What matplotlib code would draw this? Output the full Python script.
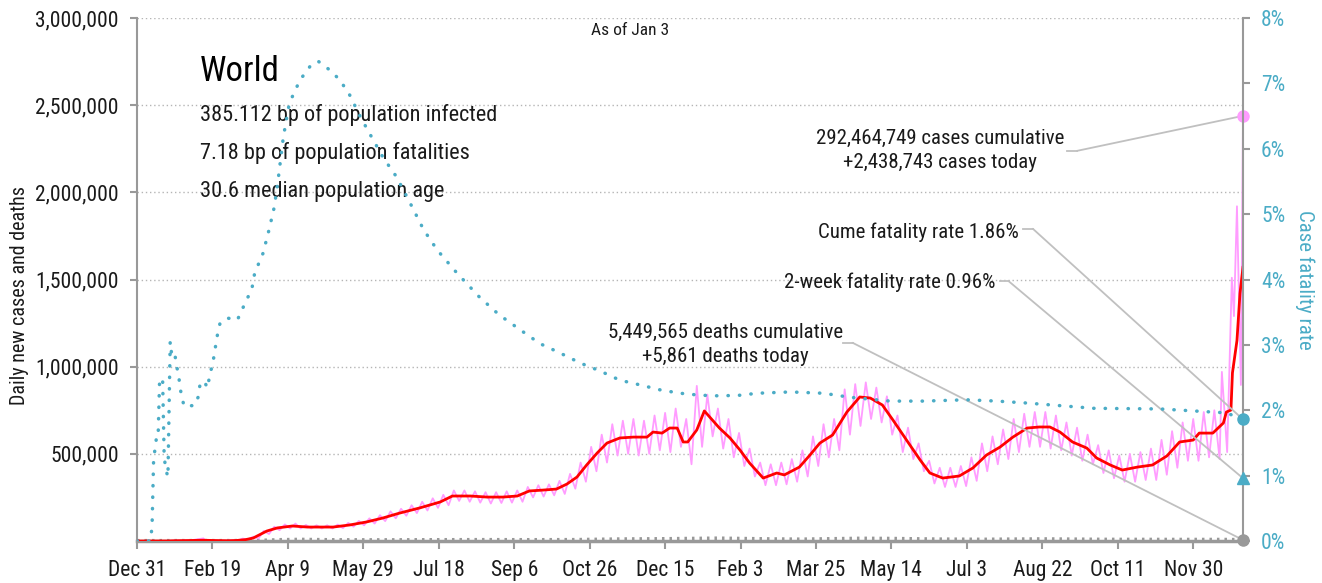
import numpy as np
import matplotlib.pyplot as plt

plt.rcParams['font.family'] = ['Roboto Condensed', 'DejaVu Sans']

# days counted from Dec 31, 2019
tick_days = [0, 50, 100, 150, 200, 250, 300, 350, 400, 450, 500, 550, 600, 650, 700]
tick_labels = ["Dec 31", "Feb 19", "Apr 9", "May 29", "Jul 18", "Sep 6", "Oct 26", "Dec 15",
               "Feb 3", "Mar 25", "May 14", "Jul 3", "Aug 22", "Oct 11", "Nov 30"]

# 7-day average of new cases (thousands)
red_days = [0, 20, 25, 35, 44, 50, 60, 66, 72, 77, 86, 93, 103, 113, 130, 141, 152, 163, 174,
            187.5, 201, 209, 221, 232, 242.5, 252, 260, 269, 278, 285, 291.6, 298, 305, 311.5,
            320, 329, 338, 342, 348, 353, 358, 362, 365, 371, 376, 386, 393, 399.6, 406, 415,
            424, 429, 439, 446, 452.6, 461, 470.5, 479, 486, 494, 501, 510, 519, 525.5, 534,
            545, 554, 563, 572, 580.5, 590, 598, 605, 611.7, 620, 629.5, 636, 645, 653, 663,
            673, 682.6, 691, 700, 704, 713, 720, 722, 725, 726, 729, 731, 733]
red_vals = [0, 0.3, 1.5, 2.8, 4.5, 3, 1.5, 3, 8, 17, 57, 75, 86, 80, 80, 92, 109, 132, 160,
            190, 224, 258, 258, 252, 252, 258, 287, 292, 298, 327, 367, 436, 505, 562,
            591, 596, 596, 625, 619, 648, 648, 568, 568, 637, 746, 648, 591, 522, 447, 361,
            390, 379, 424, 493, 562, 608, 740, 826, 820, 780, 694, 579, 465, 390, 361,
            373, 419, 493, 539, 596, 648, 654, 654, 625, 568, 533, 476, 436, 407, 424,
            436, 488, 568, 579, 619, 619, 677, 740, 751, 964, 1150, 1420, 1570]

# daily new cases (thousands): early days, then weekly highs / lows from Mar 3, 2020
pink_early_days = [0, 21, 25, 35, 44, 45, 50, 56, 60]
pink_early_vals = [0, 0.5, 2, 3, 15, 5, 2, 1.5, 2]
week0 = 63
pink_hi = [4, 14, 25, 58, 82, 95, 100, 92, 90, 90,
           94, 104, 115, 130, 148, 170, 185, 205, 225, 245,
           265, 290, 290, 285, 280, 280, 285, 290, 310, 320,
           325, 345, 385, 450, 540, 610, 670, 690, 700, 690,
           720, 735, 760, 700, 890, 840, 760, 700, 620, 530,
           450, 440, 450, 470, 520, 600, 670, 700, 870, 900,
           910, 880, 830, 720, 650, 560, 460, 420, 420, 430,
           480, 560, 600, 640, 700, 730, 740, 740, 720, 680,
           650, 610, 550, 520, 490, 500, 510, 530, 580, 630,
           680, 700, 740, 750]
pink_lo = [1, 8, 14, 40, 62, 72, 72, 72, 72, 72,
           74, 82, 90, 100, 114, 130, 145, 160, 175, 190,
           205, 230, 225, 220, 215, 218, 220, 225, 250, 255,
           262, 270, 300, 340, 400, 450, 490, 500, 490, 500,
           520, 510, 540, 440, 540, 600, 530, 480, 430, 370,
           320, 320, 325, 340, 370, 430, 480, 520, 610, 660,
           700, 680, 610, 510, 470, 400, 330, 310, 310, 315,
           345, 400, 440, 470, 510, 540, 540, 530, 520, 490,
           460, 440, 390, 360, 340, 340, 350, 350, 380, 420,
           460, 460, 480, 470]
pink_tail_days = [719, 722.5, 725.6, 727, 729, 731.6, 733]
pink_tail_vals = [970, 510, 1510, 1290, 1920, 895, 2438.743]

# daily deaths (thousands)
death_days = [0, 30, 60, 80, 95, 108, 130, 160, 200, 230, 260, 290, 320, 350, 385, 420,
              440, 480, 500, 530, 560, 600, 640, 680, 720, 733]
death_vals = [0, 0.1, 0.1, 1.2, 5.5, 7.3, 5.0, 4.5, 5.3, 5.8, 5.3, 5.9, 9.5, 11.0, 14.3, 10.0,
              8.5, 13.5, 12.5, 9.0, 7.7, 10.0, 7.5, 7.0, 6.8, 5.861]

# case fatality rate (%)
cfr_days = [0, 5, 9, 10, 11, 13, 14, 15, 17, 18, 19, 20.5, 22, 23, 25, 26, 27.5, 28.5, 29.5,
            30.7, 32, 35, 38, 40.5, 42, 45, 46.5, 49.5, 51, 53, 55, 59.5, 63, 66.5, 69.5,
            72.6, 76, 78, 83.5, 87.5, 91, 93.5, 97, 101, 108, 115, 120, 128, 134.5, 141,
            148, 154, 163, 172, 181, 190, 199, 212, 227, 240, 254, 267, 280, 294, 307, 320,
            333, 347, 360, 373, 386, 400, 411, 433, 455, 472, 499, 521, 550, 570, 590, 634,
            678, 722, 733]
cfr_vals = [0, 0, 0, 0.24, 1.24, 1.6, 1.6, 2.49, 2.45, 1.3, 1.1, 0.98, 3.05, 2.85, 2.88, 2.7,
            2.55, 2.36, 2.22, 2.11, 2.05, 2.07, 2.07, 2.2, 2.43, 2.43, 2.34, 2.66, 2.82, 3.12,
            3.33, 3.41, 3.4, 3.38, 3.53, 3.69, 3.84, 4.1, 4.4, 4.76, 5.11, 5.52, 6.18, 6.7,
            7.05, 7.27, 7.34, 7.2, 7.05, 6.82, 6.49, 6.24, 5.87, 5.57, 5.17, 4.76, 4.45, 4.1,
            3.73, 3.46, 3.23, 3.02, 2.88, 2.72, 2.6, 2.46, 2.39, 2.31, 2.26, 2.23, 2.22, 2.23,
            2.26, 2.28, 2.26, 2.2, 2.14, 2.14, 2.16, 2.14, 2.11, 2.03, 2.02, 1.96, 1.86]

last_day = 733
cases_today = 2438743
cume_rate = 1.86
twoweek_rate = 0.96
deaths_today = 5861

pink = '#ff9cff'
red = '#ff0000'
teal = '#4bacc6'
axis_gray = '#999999'
lead_gray = '#c0c0c0'
ink = '#1a1a1a'

# interleave weekly highs and lows
pink_days = list(pink_early_days)
pink_vals = list(pink_early_vals)
for k in range(len(pink_hi)):
    pink_days += [week0 + 7 * k, week0 + 7 * k + 3.5]
    pink_vals += [pink_hi[k], pink_lo[k]]
pink_days += pink_tail_days
pink_vals += pink_tail_vals

fig = plt.figure(figsize=(13.22, 5.83), dpi=100)
ax = fig.add_axes([137 / 1322, 42 / 583, 1106 / 1322, 523 / 583])
ax2 = ax.twinx()

ax.plot(death_days, np.array(death_vals) * 1000, color=axis_gray, lw=3,
        ls=(0, (0.6, 1.2)), zorder=1.5)
ax.plot(pink_days, np.array(pink_vals) * 1000, color=pink, lw=1.3, zorder=2)
ax.plot(red_days, np.array(red_vals) * 1000, color=red, lw=2, zorder=3)
ax2.plot(cfr_days, cfr_vals, color=teal, lw=2.5, ls=(0, (0.1, 3.2)),
         dash_capstyle='round', zorder=2)

ax.set_xlim(0, last_day)
ax.set_ylim(0, 3000000)
ax2.set_ylim(0, 8)

ax.set_xticks(tick_days)
ax.set_xticklabels(tick_labels)
yt = [500000, 1000000, 1500000, 2000000, 2500000, 3000000]
ax.set_yticks(yt)
ax.set_yticklabels([f"{v:,}" for v in yt])
ax2.set_yticks(range(9))
ax2.set_yticklabels([f"{v}%" for v in range(9)])

for v in yt:
    ax.axhline(v, color='#b5b5b5', lw=1, ls=(0, (1, 2)), zorder=0)

for a in (ax, ax2):
    a.spines['top'].set_visible(False)
    a.spines['left'].set_color(axis_gray)
    a.spines['right'].set_color(axis_gray)
    a.spines['bottom'].set_color(axis_gray)
    a.spines['left'].set_linewidth(1.5)
    a.spines['right'].set_linewidth(1.5)
    a.spines['bottom'].set_linewidth(2.5)
ax.spines['right'].set_visible(False)
ax2.spines['left'].set_visible(False)
ax2.spines['bottom'].set_visible(False)

ax.tick_params(axis='x', length=6, width=1.5, color=axis_gray, labelsize=15.5, pad=8,
               labelcolor=ink)
ax.tick_params(axis='y', length=5, width=1.5, color=axis_gray, labelsize=15.5, pad=8,
               labelcolor=ink)
ax2.tick_params(axis='y', length=5, width=1.5, color=axis_gray, labelsize=15.5, pad=8,
                labelcolor=teal)

ax.set_ylabel("Daily new cases and deaths", fontsize=14.5, color=ink, va='center')
ax.yaxis.set_label_coords(-0.106, 0.47)
ax2.set_ylabel("Case fatality rate", fontsize=15, color=teal, rotation=270, va='center')
ax2.yaxis.set_label_coords(1.056, 0.5)

# end markers
ax.plot([last_day], [cases_today], 'o', color=pink, ms=8, clip_on=False, zorder=6)
ax.plot([last_day], [deaths_today], 'o', color=axis_gray, ms=8, clip_on=False, zorder=6)
ax2.plot([last_day], [cume_rate], 'o', color=teal, ms=8, clip_on=False, zorder=6)
ax2.plot([last_day], [twoweek_rate], '^', color=teal, ms=9, clip_on=False, zorder=6)

# text blocks
ax.text(0.057, 0.897, "World", transform=ax.transAxes, fontsize=25, va='center', color='#000000')
stats = ["385.112 bp of population infected", "7.18 bp of population fatalities",
         "30.6 median population age"]
for s, y in zip(stats, [0.815, 0.742, 0.669]):
    ax.text(0.057, y, s, transform=ax.transAxes, fontsize=16, va='center', color=ink)
ax.text(0.446, 0.977, "As of Jan 3", transform=ax.transAxes, fontsize=12.5, ha='center',
        va='center', color=ink)

ax.text(0.726, 0.746, f"{292464749:,} cases cumulative\n+{cases_today:,} cases today",
        transform=ax.transAxes, fontsize=15, ha='center', va='center', linespacing=1.35,
        color=ink)
ax.text(0.797, 0.591, f"Cume fatality rate {cume_rate:.2f}%", transform=ax.transAxes,
        fontsize=15, ha='right', va='center', color=ink)
ax.text(0.776, 0.495, f"2-week fatality rate {twoweek_rate:.2f}%", transform=ax.transAxes,
        fontsize=15, ha='right', va='center', color=ink)
ax.text(0.532, 0.375, f"{5449565:,} deaths cumulative\n+{deaths_today:,} deaths today",
        transform=ax.transAxes, fontsize=15, ha='center', va='center', linespacing=1.35,
        color=ink)


def leader(x0, x1, y, target, trans):
    ax.plot([x0, x1], [y, y], transform=ax.transAxes, color=lead_gray, lw=1.3, clip_on=False)
    ax.annotate('', xy=target, xycoords=trans, xytext=(x1, y), textcoords='axes fraction',
                arrowprops=dict(arrowstyle='-', color=lead_gray, lw=1.3, shrinkA=0, shrinkB=0))


leader(0.841, 0.850, 0.746, (last_day, cases_today), ax.transData)
leader(0.801, 0.810, 0.597, (last_day, cume_rate), ax2.transData)
leader(0.780, 0.788, 0.497, (last_day, twoweek_rate), ax2.transData)
leader(0.638, 0.647, 0.379, (last_day, deaths_today), ax.transData)

fig.savefig("out.png", dpi=100)
